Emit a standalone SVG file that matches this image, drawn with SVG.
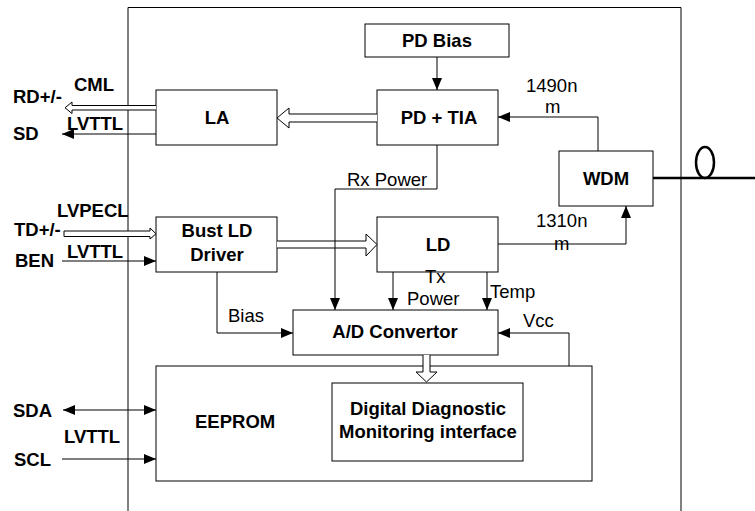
<svg xmlns="http://www.w3.org/2000/svg" width="755" height="511" viewBox="0 0 755 511">
<style>
.box{fill:#fff;stroke:#000;stroke-width:1}
.ln{fill:none;stroke:#000;stroke-width:1}
.hol{fill:#fff;stroke:#000;stroke-width:1}
.b{font-family:"Liberation Sans",Arial,sans-serif;font-weight:bold;font-size:18.5px;fill:#000}
.r{font-family:"Liberation Sans",Arial,sans-serif;font-size:18.5px;fill:#000}
.m{text-anchor:middle}
</style>
<defs>
<marker id="ah" viewBox="0 0 12 10" refX="12" refY="5" markerWidth="12" markerHeight="10" markerUnits="userSpaceOnUse" orient="auto-start-reverse">
<path d="M0,0 L12,5 L0,10 z" fill="#000"/>
</marker>
</defs>
<rect width="755" height="511" fill="#fff"/>
<path class="ln" d="M128,520 V7.5 H681 V520"/>

<g id="pdbias"><rect class="box" x="365" y="24" width="144" height="33"/><text class="b m" x="437" y="47">PD Bias</text></g>
<g id="pdtia"><rect class="box" x="377" y="90" width="121" height="55"/><text class="b m" x="439" y="124">PD + TIA</text></g>
<g id="la"><rect class="box" x="156" y="90" width="121" height="55"/><text class="b m" x="217" y="124">LA</text></g>
<g id="wdm"><rect class="box" x="559" y="151" width="94" height="55"/><text class="b m" x="606" y="185">WDM</text></g>
<g id="driver"><rect class="box" x="156" y="217" width="121" height="55"/><text class="b m" x="217" y="237">Bust LD</text><text class="b m" x="217" y="261">Driver</text></g>
<g id="ld"><rect class="box" x="377" y="217" width="121" height="55"/><text class="b m" x="438" y="251">LD</text></g>
<g id="adc"><rect class="box" x="293" y="310" width="205" height="45"/><text class="b m" x="395" y="338">A/D Convertor</text></g>
<g id="eeprom"><rect class="box" x="156" y="366" width="436" height="115"/><text class="b" x="195" y="428">EEPROM</text></g>
<g id="ddm"><rect class="box" x="332" y="383" width="191" height="78"/><text class="b m" x="428" y="415">Digital Diagnostic</text><text class="b m" x="428" y="438">Monitoring interface</text></g>

<g id="connectors">
<path class="ln" d="M437,57 V90" marker-end="url(#ah)"/>
<path class="hol" d="M377,114 H289 V108 L277,118 L289,128 V122 H377"/>
<path class="hol" d="M156,105.5 H72 V102 L65,107.8 L72,113.5 V110 H156"/>
<path class="ln" d="M156,134 H62" marker-end="url(#ah)"/>
<path class="hol" d="M64,231 H150 V228 L156,233.8 L150,239 V236.5 H64 z"/>
<path class="ln" d="M62,261 H156" marker-end="url(#ah)"/>
<path class="hol" d="M277,241 H366 V234 L377,244.5 L366,256 V248 H277"/>
<path class="ln" d="M598,151 V117 H498" marker-end="url(#ah)"/>
<path class="ln" d="M498,244 H626 V206" marker-end="url(#ah)"/>
<path class="ln" d="M437,145 V189 H335 V310" marker-end="url(#ah)"/>
<path class="ln" d="M393,272 V310" marker-end="url(#ah)"/>
<path class="ln" d="M487,272 V310" marker-end="url(#ah)"/>
<path class="ln" d="M569,366 V333 H498" marker-end="url(#ah)"/>
<path class="ln" d="M217,272 V333 H293" marker-end="url(#ah)"/>
<path class="hol" d="M423,355 V372 H416 L426.5,382 L437,372 H430 V355"/>
<path class="ln" d="M63,410 H156" marker-start="url(#ah)" marker-end="url(#ah)"/>
<path class="ln" d="M62,459 H156" marker-end="url(#ah)"/>
<path d="M653,178 H755" fill="none" stroke="#000" stroke-width="2.7"/>
<ellipse cx="705" cy="162.5" rx="9" ry="15.5" fill="none" stroke="#000" stroke-width="2.5"/>
</g>

<text class="b" x="74" y="91">CML</text>
<text class="b" x="13" y="103">RD+/-</text>
<text class="b" x="67" y="130">LVTTL</text>
<text class="b" x="13" y="140">SD</text>
<text class="b" x="57" y="217">LVPECL</text>
<text class="b" x="14" y="236">TD+/-</text>
<text class="b" x="67" y="258">LVTTL</text>
<text class="b" x="15" y="267">BEN</text>
<text class="b" x="13" y="417">SDA</text>
<text class="b" x="64" y="443">LVTTL</text>
<text class="b" x="14" y="466">SCL</text>
<text class="r" x="347" y="186">Rx Power</text>
<text class="r" x="526" y="92">1490n</text>
<text class="r" x="545" y="113">m</text>
<text class="r" x="536" y="227">1310n</text>
<text class="r" x="554" y="250">m</text>
<text class="r" x="425" y="283">Tx</text>
<text class="r" x="407" y="305">Power</text>
<text class="r" x="490" y="298">Temp</text>
<text class="r" x="523" y="327">Vcc</text>
<text class="r" x="228" y="322">Bias</text>
</svg>
